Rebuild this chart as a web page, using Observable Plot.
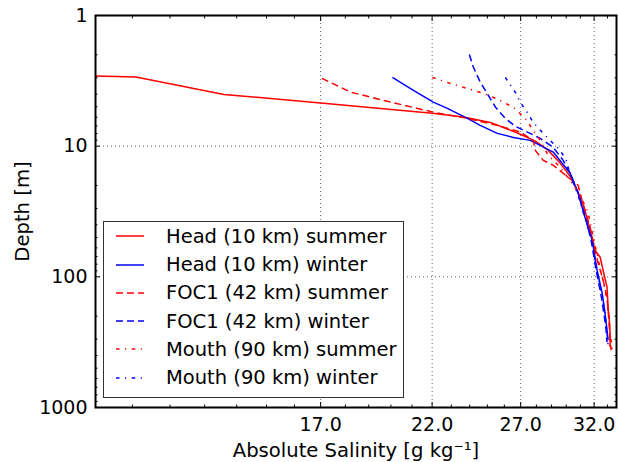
<!DOCTYPE html>
<html><head><meta charset="utf-8">
<script src="https://cdn.jsdelivr.net/npm/d3@7"></script>
<script src="https://cdn.jsdelivr.net/npm/@observablehq/plot@0.6"></script>
<style>
body{margin:0;background:#fff;font-family:"DejaVu Sans";}
#wrap{position:relative;width:618px;height:462px;}
#legend{position:absolute;left:103px;top:221px;width:299px;height:175px;border:1.5px solid #333;background:#fff;font-size:19.5px;font-family:"DejaVu Sans";}
.row{position:absolute;left:0;height:28px;display:flex;align-items:center;white-space:nowrap;}
.row svg{margin-left:12px;margin-right:22px;}
</style></head><body><div id="wrap"></div>
<script>
// Head (10 km) summer
const headSummerSal = [10.10, 11.09, 13.59, 17.0, 22.01, 23.65, 25.17, 26.06, 26.98, 27.93, 28.78, 29.59, 30.28, 30.84, 31.33, 31.71, 32.07, 32.45, 32.67, 32.97, 33.05, 33.13, 33.20, 33.20];
const headSummerDepth = [2.90, 2.96, 4.02, 4.67, 5.61, 5.99, 6.58, 7.29, 8.10, 9.16, 10.77, 13.54, 17.0, 22.55, 31.0, 44.0, 62.6, 70.8, 89.0, 120, 171, 204, 270, 345];
// Head (10 km) winter
const headWinterSal = [20.07, 21.07, 22.06, 22.79, 23.87, 24.59, 25.58, 26.55, 27.61, 28.25, 29.11, 30.28, 30.84, 31.33, 31.86, 32.22, 32.60, 32.82, 32.97, 33.05];
const headWinterDepth = [2.98, 3.74, 4.60, 5.14, 6.13, 6.93, 7.98, 8.57, 9.03, 9.86, 11.1, 16.1, 22.9, 35.0, 52.5, 89.0, 133, 190, 256, 305];
// FOC1 (42 km) summer
const focSummerSal = [17.05, 18.22, 19.98, 22.06, 23.87, 25.58, 26.98, 27.80, 27.93, 28.45, 29.11, 30.14, 30.84, 31.12, 31.48, 31.71, 32.07, 32.30, 32.67, 32.97, 33.05, 33.13, 33.20, 33.28];
const focSummerDepth = [3.03, 3.86, 4.60, 5.49, 6.13, 6.93, 7.80, 9.03, 10.77, 12.84, 14.0, 17.3, 19.94, 26.0, 35.0, 41.8, 62.6, 78.7, 106, 143, 180, 226, 290, 364];
// FOC1 (42 km) winter
const focWinterSal = [23.98, 24.20, 24.59, 25.0, 25.47, 26.06, 26.67, 27.42, 28.25, 29.11, 29.79, 30.28, 30.84, 31.33, 31.78, 32.15, 32.52, 32.75, 32.90, 32.97];
const focWinterDepth = [1.99, 2.48, 3.24, 3.97, 5.02, 6.13, 7.06, 7.80, 8.72, 10.2, 12.84, 16.1, 22.9, 34.0, 52.5, 89.0, 138, 196, 256, 317];
// Mouth (90 km) summer
const mouthSummerSal = [22.01, 22.95, 23.87, 24.77, 25.64, 26.55, 27.29, 27.80, 28.25, 28.78, 29.45, 30.28, 30.98, 31.55, 31.86, 32.15, 32.45, 32.75, 32.97, 33.13, 33.28, 33.36];
const mouthSummerDepth = [2.98, 3.31, 3.62, 3.95, 4.39, 5.05, 6.13, 7.57, 9.03, 11.8, 14.0, 18.3, 23.7, 32.0, 45.5, 62.6, 86.0, 116, 151, 215, 305, 364];
// Mouth (90 km) winter
const mouthWinterSal = [26.06, 26.67, 26.98, 27.42, 27.80, 28.45, 28.91, 29.59, 30.0, 30.28, 30.84, 31.33, 31.86, 32.22, 32.60, 32.82, 32.97, 33.05];
const mouthWinterDepth = [2.98, 3.88, 4.63, 5.52, 6.58, 7.98, 9.03, 10.77, 12.84, 16.7, 23.7, 35.5, 54.0, 92.0, 138, 196, 266, 333];

const seriesLabels = ["Head (10 km) summer", "Head (10 km) winter", "FOC1 (42 km) summer", "FOC1 (42 km) winter", "Mouth (90 km) summer", "Mouth (90 km) winter"];
const xMajorTicks = [17, 22, 27, 32];
const xMinorTicks = [11, 12, 13, 14, 15, 16, 18, 19, 20, 21, 23, 24, 25, 26, 28, 29, 30, 31, 33];
const yMajorTicks = [1, 10, 100, 1000];
const yMinorTicks = [2, 3, 4, 5, 6, 7, 8, 9, 20, 30, 40, 50, 60, 70, 80, 90, 200, 300, 400, 500, 600, 700, 800, 900];
const yGridTicks = [10, 100];

const seriesSal = [headSummerSal, headWinterSal, focSummerSal, focWinterSal, mouthSummerSal, mouthWinterSal];
const seriesDepth = [headSummerDepth, headWinterDepth, focSummerDepth, focWinterDepth, mouthSummerDepth, mouthWinterDepth];
const colors = ["#ff0000", "#0000ff", "#ff0000", "#0000ff", "#ff0000", "#0000ff"];
const dashes = [null, null, "7,4", "7,4", "3.5,5.5,1.2,5.5", "3.5,5.5,1.2,5.5"];

const lineMarks = seriesSal.map((sal, i) => {
  const data = sal.map((s, j) => ({s, d: seriesDepth[i][j]}));
  return Plot.line(data, {x: "s", y: "d", stroke: colors[i], strokeWidth: 1.5, strokeDasharray: dashes[i], strokeLinecap: "butt"});
});

const noText = () => "";
const plot = Plot.plot({
  width: 618, height: 462,
  marginLeft: 95, marginRight: 2, marginTop: 15, marginBottom: 55,
  style: {fontFamily: "DejaVu Sans", fontSize: "19px", background: "white", color: "black", overflow: "visible"},
  x: {type: "log", domain: [10.1, 33.7], label: null},
  y: {type: "log", domain: [1, 1000], reverse: true, label: null},
  marks: [
    Plot.gridX(xMajorTicks, {stroke: "black", strokeOpacity: 0.6, strokeDasharray: "1,3"}),
    Plot.gridY(yGridTicks, {stroke: "black", strokeOpacity: 0.6, strokeDasharray: "1,3"}),
    ...lineMarks,
    Plot.axisX(xMajorTicks, {anchor: "bottom", tickSize: -5, tickPadding: 15, tickFormat: d => d.toFixed(1), fontSize: 19, label: "Absolute Salinity [g kg⁻¹]", labelAnchor: "center", labelOffset: 49, labelArrow: "none"}),
    Plot.axisX(xMinorTicks, {anchor: "bottom", tickSize: -2.5, tickFormat: noText, label: null}),
    Plot.axisX(xMajorTicks, {anchor: "top", tickSize: -5, tickFormat: noText, label: null}),
    Plot.axisX(xMinorTicks, {anchor: "top", tickSize: -2.5, tickFormat: noText, label: null}),
    Plot.axisY(yMajorTicks, {anchor: "left", tickSize: -5, tickPadding: 13, tickFormat: d => String(d), fontSize: 19, label: "Depth [m]", labelAnchor: "center", labelOffset: 80, labelArrow: "none"}),
    Plot.axisY(yMinorTicks, {anchor: "left", tickSize: -2.5, tickFormat: noText, label: null}),
    Plot.axisY(yMajorTicks, {anchor: "right", tickSize: -5, tickFormat: noText, label: null}),
    Plot.axisY(yMinorTicks, {anchor: "right", tickSize: -2.5, tickFormat: noText, label: null}),
    Plot.frame({stroke: "black", strokeWidth: 2})
  ]
});

// enlarge axis titles slightly to match the reference
plot.querySelectorAll("g[aria-label='x-axis label'] text, g[aria-label='y-axis label'] text").forEach(t => t.setAttribute("font-size", "19.6"));

const wrap = document.getElementById("wrap");
wrap.appendChild(plot);

const legend = document.createElement("div");
legend.id = "legend";
seriesLabels.forEach((lab, i) => {
  const row = document.createElement("div");
  row.className = "row";
  row.style.top = (0.2 + 28.3 * i) + "px";
  const ns = "http://www.w3.org/2000/svg";
  const svg = document.createElementNS(ns, "svg");
  svg.setAttribute("width", "28");
  svg.setAttribute("height", "6");
  const ln = document.createElementNS(ns, "line");
  ln.setAttribute("x1", "0"); ln.setAttribute("x2", "28");
  ln.setAttribute("y1", "3"); ln.setAttribute("y2", "3");
  ln.setAttribute("stroke", colors[i]);
  ln.setAttribute("stroke-width", "1.5");
  if (dashes[i]) ln.setAttribute("stroke-dasharray", dashes[i]);
  svg.appendChild(ln);
  row.appendChild(svg);
  const t = document.createElement("span");
  t.textContent = lab;
  row.appendChild(t);
  legend.appendChild(row);
});
wrap.appendChild(legend);
</script></body></html>
